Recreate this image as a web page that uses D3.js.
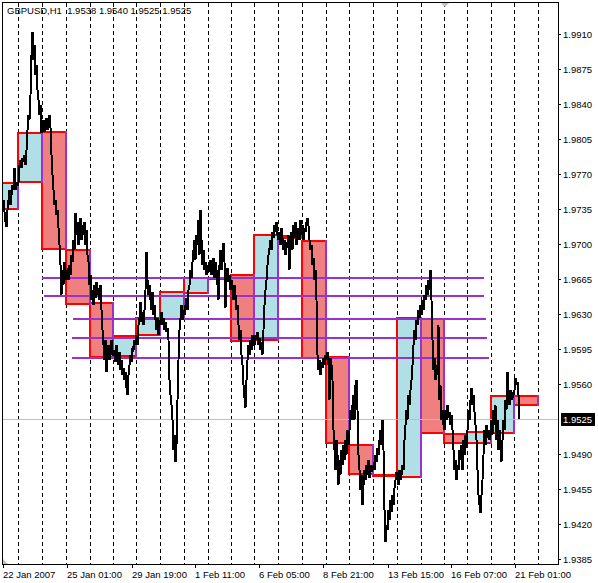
<!DOCTYPE html>
<html><head><meta charset="utf-8">
<script src="https://cdn.jsdelivr.net/npm/d3@7"></script>
<style>
body{margin:0;background:#fff}
svg{display:block}
text{font-family:"Liberation Sans",Arial,sans-serif}
</style>
</head><body>
<svg id="chart" width="598" height="583"></svg>
<script>
// ---------------- DATA ----------------
const symbol = "GBPUSD,H1";
const lastBar = [1.9538, 1.9540, 1.9525, 1.9525]; // O H L C
const currentPrice = 1.9525;

const dayNames = ["22 Jan","23 Jan","24 Jan","25 Jan","26 Jan","29 Jan","30 Jan","31 Jan","1 Feb","2 Feb",
  "5 Feb","6 Feb","7 Feb","8 Feb","9 Feb","12 Feb","13 Feb","14 Feb","15 Feb","16 Feb","19 Feb","20 Feb","21 Feb"];
const barsPerDay = [24,24,24,24,23,23,24,24,24,23,23,24,24,24,23,24,24,24,23,23,24,23,24];
const dayOpen  = [1.9735,1.9762,1.9812,1.9694,1.9641,1.9588,1.9609,1.9625,1.9651,1.9666,1.9669,1.9604,
  1.9708,1.9703,1.9587,1.9499,1.9469,1.9467,1.9625,1.9510,1.9501,1.9511,1.9548];
const dayClose = [1.9761,1.9811,1.9695,1.9640,1.9587,1.9608,1.9626,1.9652,1.9666,1.9665,1.9603,1.9709,
  1.9706,1.9586,1.9501,1.9470,1.9468,1.9626,1.9511,1.9501,1.9512,1.9548,1.9539];

const levelPrices = [1.9666, 1.9648, 1.9625, 1.9606, 1.9586];
const levelFromBar = [48, 50, 79, 78, 78];
const levelToBar   = [490, 490, 492, 493, 495];

const priceTicks = [1.9910,1.9875,1.9840,1.9805,1.9770,1.9735,1.9700,1.9665,1.9630,1.9595,1.9560,1.9490,1.9455,1.9420,1.9385];
const timeLabelBars = [9, 73, 138, 201, 265, 329, 394, 457, 521];
const timeLabels = ["22 Jan 2007","25 Jan 01:00","29 Jan 19:00","1 Feb 11:00","6 Feb 05:00",
  "8 Feb 21:00","13 Feb 15:00","16 Feb 07:00","21 Feb 01:00"];

// hourly closes, one per bar from 22 Jan 00:00
const hourlyCloses = [
1.9739,1.9744,1.9734,1.9739,1.9744,1.9736,1.9741,1.9744,1.9739,1.9744,1.9732,1.9722,1.9717,1.9734,1.9744,1.9754,1.9739,1.9749,1.9759,1.9754,1.9776,1.9754,1.9762,1.9758,
1.9762,1.9779,1.9784,1.9776,1.9786,1.9782,1.9789,1.9779,1.9794,1.9814,1.9829,1.9824,1.9849,1.9889,1.9912,1.9884,1.9899,1.9869,1.9879,1.9854,1.9844,1.9829,1.9839,1.9811,
1.9816,1.9824,1.9812,1.9819,1.9826,1.9814,1.9822,1.9829,1.9816,1.9789,1.9769,1.9754,1.9739,1.9744,1.9729,1.9734,1.9716,1.9699,1.9679,1.9649,1.9674,1.9659,1.9682,1.9664,1.9672,
1.9674,1.9664,1.9679,1.9669,1.9689,1.9682,1.9704,1.9694,1.9731,1.9709,1.9722,1.9699,1.9716,1.9726,1.9704,1.9719,1.9709,1.9722,1.9699,1.9714,1.9689,1.9682,1.9659,1.9669,
1.9644,1.9654,1.9639,1.9659,1.9646,1.9662,1.9649,1.9656,1.9644,1.9659,1.9634,1.9614,1.9599,1.9584,1.9604,1.9572,1.9589,1.9599,1.9584,1.9594,1.9604,1.9589,
1.9589,1.9594,1.9582,1.9599,1.9586,1.9579,1.9592,1.9574,1.9584,1.9569,1.9576,1.9564,1.9572,1.9556,1.9549,1.9569,1.9579,1.9589,1.9582,1.9596,1.9594,1.9604,1.9599,
1.9609,1.9599,1.9619,1.9626,1.9642,1.9622,1.9632,1.9619,1.9634,1.9654,1.9692,1.9664,1.9649,1.9659,1.9644,1.9634,1.9652,1.9629,1.9639,1.9624,1.9614,1.9626,1.9609,1.9619,
1.9624,1.9632,1.9619,1.9626,1.9614,1.9622,1.9612,1.9616,1.9604,1.9564,1.9549,1.9539,1.9524,1.9494,1.9509,1.9482,1.9499,1.9544,1.9584,1.9614,1.9626,1.9639,1.9624,1.9634,
1.9629,1.9639,1.9646,1.9634,1.9654,1.9659,1.9674,1.9666,1.9682,1.9694,1.9704,1.9684,1.9709,1.9699,1.9724,1.9689,1.9734,1.9704,1.9679,1.9694,1.9674,1.9682,1.9669,1.9676,
1.9679,1.9672,1.9684,1.9669,1.9676,1.9686,1.9666,1.9682,1.9674,1.9659,1.9644,1.9679,1.9694,1.9674,1.9689,1.9701,1.9682,1.9636,1.9669,1.9676,1.9662,1.9669,1.9654,1.9664,
1.9656,1.9644,1.9659,1.9649,1.9634,1.9639,1.9619,1.9604,1.9614,1.9589,1.9579,1.9559,1.9546,1.9536,1.9564,1.9584,1.9599,1.9589,1.9604,1.9594,1.9609,1.9599,
1.9599,1.9609,1.9604,1.9612,1.9599,1.9606,1.9594,1.9602,1.9589,1.9614,1.9639,1.9654,1.9664,1.9679,1.9689,1.9696,1.9704,1.9694,1.9712,1.9706,1.9719,1.9712,1.9722,1.9709,
1.9704,1.9712,1.9699,1.9716,1.9706,1.9694,1.9704,1.9689,1.9702,1.9696,1.9709,1.9674,1.9699,1.9712,1.9694,1.9719,1.9706,1.9722,1.9699,1.9712,1.9716,1.9704,1.9724,1.9709,1.9719,
1.9704,1.9716,1.9712,1.9722,1.9726,1.9718,1.9704,1.9694,1.9699,1.9679,1.9686,1.9664,1.9674,1.9644,1.9589,1.9574,1.9584,1.9569,1.9582,1.9576,1.9586,1.9579,1.9589,
1.9584,1.9592,1.9579,1.9544,1.9586,1.9579,1.9564,1.9514,1.9494,1.9474,1.9504,1.9489,1.9459,1.9484,1.9469,1.9494,1.9479,1.9499,1.9484,1.9504,1.9489,1.9514,1.9499,
1.9514,1.9534,1.9524,1.9539,1.9549,1.9524,1.9559,1.9564,1.9534,1.9489,1.9474,1.9454,1.9469,1.9439,1.9459,1.9474,1.9464,1.9479,1.9469,1.9484,1.9466,1.9479,1.9472,1.9476,
1.9479,1.9474,1.9489,1.9482,1.9496,1.9489,1.9504,1.9514,1.9499,1.9524,1.9494,1.9434,1.9402,1.9419,1.9414,1.9434,1.9424,1.9444,1.9432,1.9449,1.9439,1.9456,1.9464,1.9472,
1.9466,1.9459,1.9474,1.9464,1.9469,1.9479,1.9474,1.9504,1.9519,1.9534,1.9524,1.9549,1.9539,1.9554,1.9564,1.9579,1.9599,1.9614,1.9604,1.9624,1.9619,1.9634,1.9626,1.9639,
1.9629,1.9644,1.9634,1.9649,1.9644,1.9659,1.9649,1.9664,1.9654,1.9674,1.9644,1.9604,1.9574,1.9586,1.9564,1.9579,1.9569,1.9619,1.9544,1.9559,1.9524,1.9534,1.9519,
1.9514,1.9534,1.9524,1.9539,1.9526,1.9532,1.9519,1.9529,1.9514,1.9494,1.9474,1.9484,1.9464,1.9479,1.9474,1.9494,1.9484,1.9499,1.9474,1.9504,1.9489,1.9509,1.9496,
1.9514,1.9534,1.9524,1.9544,1.9556,1.9539,1.9549,1.9532,1.9519,1.9504,1.9474,1.9449,1.9439,1.9431,1.9449,1.9464,1.9489,1.9514,1.9499,1.9519,1.9506,1.9514,1.9504,1.9512,
1.9524,1.9509,1.9534,1.9519,1.9539,1.9504,1.9524,1.9494,1.9514,1.9499,1.9482,1.9504,1.9524,1.9514,1.9544,1.9534,1.9572,1.9549,1.9539,1.9554,1.9544,1.9552,1.9549,
1.9554,1.9566,1.9559,1.9562,1.9549,1.9525
];

// ---------------- DRAW ----------------
const svg = d3.select("#chart");
const plot = {left: 3, right: 558, top: 3, bottom: 565};
const x = d3.scaleLinear().domain([0, 564]).range([-6, 558]);
const y = d3.scaleLinear().domain([1.9910, 1.9385]).range([34, 559]);
const fmt = d3.format(".4f");

svg.append("rect").attr("width", 598).attr("height", 583).attr("fill", "#fff");

const defs = svg.append("defs");
defs.append("clipPath").attr("id", "clip").append("rect")
  .attr("x", plot.left).attr("y", plot.top)
  .attr("width", plot.right - plot.left).attr("height", plot.bottom - plot.top);

const g = svg.append("g").attr("clip-path", "url(#clip)");

// day starts
const dayStart = [];
let acc = 0;
barsPerDay.forEach(n => { dayStart.push(acc); acc += n; });
const dayEnd = dayStart.map((s, i) => s + barsPerDay[i]);

// day separators (dotted)
g.selectAll("line.sep").data(dayEnd).join("line")
  .attr("class", "sep")
  .attr("x1", d => x(d) + 0.5).attr("x2", d => x(d) + 0.5)
  .attr("y1", plot.top).attr("y2", plot.bottom)
  .attr("stroke", "#000").attr("stroke-width", 1)
  .attr("stroke-dasharray", "4,3")
  .attr("shape-rendering", "crispEdges");

// daily boxes
const days = dayNames.map((name, i) => ({name, i, open: dayOpen[i], close: dayClose[i], s: dayStart[i], e: dayEnd[i]}));
g.selectAll("rect.box").data(days).join("rect")
  .attr("class", "box")
  .attr("x", d => x(d.s))
  .attr("width", d => x(d.e) - x(d.s))
  .attr("y", d => y(Math.max(d.open, d.close)))
  .attr("height", d => Math.max(0.5, Math.abs(y(d.open) - y(d.close))))
  .attr("fill", d => d.close >= d.open ? "#B0E0E6" : "#F08080")
  .attr("stroke", "#FF0000").attr("stroke-width", 2)
  .attr("shape-rendering", "crispEdges");

// right edges in purple
g.selectAll("line.edge").data(days).join("line")
  .attr("class", "edge")
  .attr("x1", d => x(d.e)).attr("x2", d => x(d.e))
  .attr("y1", d => y(Math.max(d.open, d.close)) - 1)
  .attr("y2", d => y(Math.min(d.open, d.close)) + 1)
  .attr("stroke", "#9932CC").attr("stroke-width", 2)
  .attr("shape-rendering", "crispEdges");

// horizontal levels
const levels = levelPrices.map((p, i) => ({p, a: levelFromBar[i], b: levelToBar[i]}));
g.selectAll("line.lvl").data(levels).join("line")
  .attr("class", "lvl")
  .attr("x1", d => x(d.a)).attr("x2", d => x(d.b))
  .attr("y1", d => y(d.p)).attr("y2", d => y(d.p))
  .attr("stroke", "#9932CC").attr("stroke-width", 2)
  .attr("shape-rendering", "crispEdges");

// current price line
g.append("line")
  .attr("x1", plot.left).attr("x2", plot.right)
  .attr("y1", y(currentPrice) + 0.5).attr("y2", y(currentPrice) + 0.5)
  .attr("stroke", "#C0C0C0").attr("stroke-width", 1)
  .attr("shape-rendering", "crispEdges");

// price line
const line = d3.line().x((d, i) => x(i) + 0.5).y(d => y(d));
g.append("path").datum(hourlyCloses)
  .attr("d", line)
  .attr("fill", "none").attr("stroke", "#000").attr("stroke-width", 2)
  .attr("stroke-linejoin", "miter")
  .attr("shape-rendering", "crispEdges");

// frame
svg.append("rect")
  .attr("x", 2.5).attr("y", 2.5).attr("width", 556).attr("height", 562)
  .attr("fill", "none").attr("stroke", "#000").attr("stroke-width", 1)
  .attr("shape-rendering", "crispEdges");

// right price axis
const yAxis = d3.axisRight(y).tickValues(priceTicks).tickFormat(fmt).tickSize(3).tickPadding(2);
const ya = svg.append("g").attr("transform", "translate(558,0)").call(yAxis);
ya.select(".domain").remove();
ya.selectAll("line").attr("stroke", "#000").attr("shape-rendering", "crispEdges");
ya.selectAll("text").attr("fill", "#000").style("font-size", "9.5px")
  .style("font-family", '"Liberation Sans", Arial, sans-serif');

// bottom time axis
const xAxis = d3.axisBottom(x).tickValues(timeLabelBars).tickFormat((d, i) => timeLabels[i]).tickSize(3).tickPadding(3);
const xa = svg.append("g").attr("transform", "translate(0,565)").call(xAxis);
xa.select(".domain").remove();
xa.selectAll("line").attr("stroke", "#000").attr("shape-rendering", "crispEdges");
xa.selectAll("text").attr("fill", "#000").attr("text-anchor", "start").attr("x", -0.5)
  .style("font-size", "9.5px").style("font-family", '"Liberation Sans", Arial, sans-serif');

// current price label
svg.append("rect").attr("x", 561).attr("y", y(currentPrice) - 6).attr("width", 34).attr("height", 13)
  .attr("fill", "#000");
svg.append("text").attr("x", 563).attr("y", y(currentPrice) + 0.5).attr("dy", "0.35em")
  .attr("fill", "#fff").style("font-size", "9.5px").text(fmt(currentPrice));

// title
svg.append("text").attr("x", 7).attr("y", 14)
  .style("font-size", "9.5px").style("white-space", "pre").attr("fill", "#000")
  .text(symbol + "  " + lastBar.map(fmt).join(" "));

// small gray markers
svg.append("path").attr("d", "M441,3 L449,3 L445,7 Z").attr("fill", "#C0C0C0");
svg.append("path").attr("d", "M3,559 L3,564 L8,564 Z").attr("fill", "#C0C0C0");
</script>
</body></html>
